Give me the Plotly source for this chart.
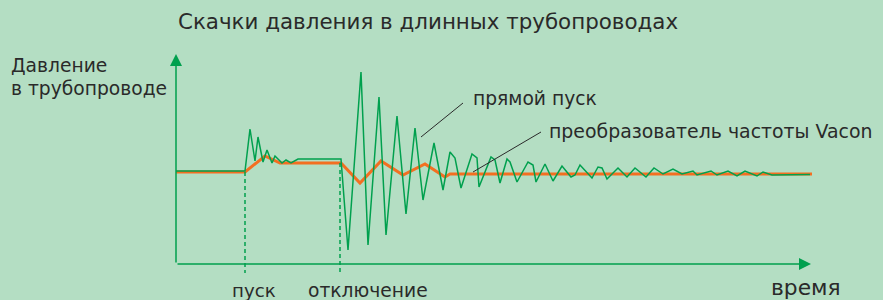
import plotly.graph_objects as go

# Schematic units: time (t) and pressure (p), arbitrary
t_direct = [0, 69, 74, 79, 82, 87, 91, 96, 99, 106, 110, 115, 122, 165, 172, 185, 192, 203, 210, 221,
            230, 239, 247, 258, 267, 274, 279, 285, 296, 301, 303, 315, 319, 324, 331, 334, 341,
            352, 357, 360, 369, 377, 386, 395, 399, 404, 416, 422, 426, 431, 442, 451, 459, 470,
            478, 487, 497, 506, 517, 521, 535, 541, 552, 561, 569, 581, 587, 596, 634]
p_direct = [93, 93, 135, 103, 127, 102, 114, 101, 108, 101, 104, 101, 105, 105, 14, 192, 19, 167, 29, 148,
            50, 136, 64, 121, 74, 112, 106, 76, 110, 106, 77, 107, 104, 81, 105, 102, 82,
            102, 99, 82, 100, 83, 98, 87, 89, 99, 86, 97, 96, 85, 96, 87, 96, 87,
            96, 90, 95, 90, 93, 89, 93, 89, 93, 88, 93, 88, 92, 89, 89.5]

t_vfd = [0, 69, 89, 104, 165, 184, 205, 227, 249, 269, 274, 636]
p_vfd = [92, 92, 108, 101, 101, 81, 103, 89, 100, 87, 90, 90]

t_start = 69
t_stop = 164

title_text = "Скачки давления в длинных трубопроводах"
y_label = ["Давление", "в трубопроводе"]
x_label = "время"
event_labels = ["пуск", "отключение"]
series_labels = ["прямой пуск", "преобразователь частоты Vacon"]

BG = "#b4dec3"
GREEN = "#00a04e"
ORANGE = "#f36f21"
TXT = "#2a2a2a"
FONT = "DejaVu Sans"

fig = go.Figure()
fig.add_trace(go.Scatter(x=t_vfd, y=p_vfd, mode="lines",
                         line=dict(color=ORANGE, width=3), hoverinfo="skip"))
fig.add_trace(go.Scatter(x=t_direct, y=p_direct, mode="lines",
                         line=dict(color=GREEN, width=1.5), hoverinfo="skip"))

# axes arrows
fig.add_annotation(x=0, y=210, ax=0, ay=0, axref="x", ayref="y", xref="x", yref="y",
                   showarrow=True, arrowhead=2, arrowsize=1.6, arrowwidth=1.5,
                   arrowcolor=GREEN, text="")
fig.add_annotation(x=635, y=0, ax=0, ay=0, axref="x", ayref="y", xref="x", yref="y",
                   showarrow=True, arrowhead=2, arrowsize=1.6, arrowwidth=1.5,
                   arrowcolor=GREEN, text="")

# dashed event lines
for tx, top in [(t_start, 92), (t_stop, 101)]:
    fig.add_shape(type="line", x0=tx, x1=tx, y0=top, y1=-9, xref="x", yref="y",
                  line=dict(color=GREEN, width=1.5, dash="4px,3px"))

# leader lines
fig.add_shape(type="line", x0=287, y0=161, x1=245, y1=127, line=dict(color=TXT, width=1))
fig.add_shape(type="line", x0=365, y0=132, x1=297, y1=92, line=dict(color=TXT, width=1))

def label(x, y, text, size):
    fig.add_annotation(x=x, y=y, xref="x", yref="y", text=text, showarrow=False,
                       xanchor="left", yanchor="middle",
                       font=dict(family=FONT, size=size, color=TXT))

label(0, 243, title_text, 21.4)
label(-167, 199, y_label[0], 18.7)
label(-167, 176, y_label[1], 18.7)
label(295, 166, series_labels[0], 18.7)
label(371, 133, series_labels[1], 18.9)
label(54, -26, event_labels[0], 18.2)
label(130, -26, event_labels[1], 18.7)
label(593, -23, x_label, 21.8)

fig.update_layout(
    width=883, height=300,
    margin=dict(l=0, r=0, t=0, b=0),
    paper_bgcolor=BG, plot_bgcolor=BG,
    showlegend=False,
    xaxis=dict(range=[-176, 707], visible=False, fixedrange=True),
    yaxis=dict(range=[-36, 264], visible=False, fixedrange=True),
)

fig.write_html("out.html", config={"displayModeBar": False},
               post_script="document.body.style.margin='0';document.body.style.overflow='hidden';")
